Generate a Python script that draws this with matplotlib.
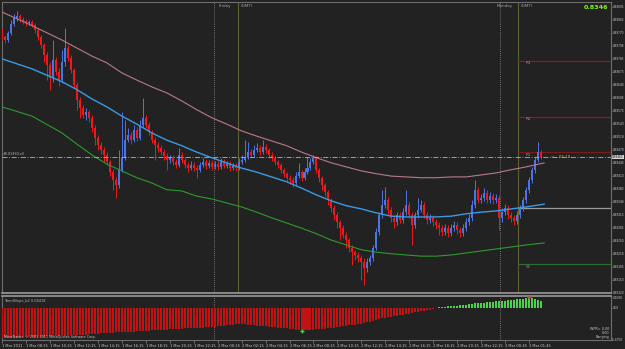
import matplotlib
matplotlib.use('Agg')
import matplotlib.pyplot as plt
import matplotlib.transforms as mtransforms
import numpy as np

BG = '#222222'
POINT = 0.00001
SCALE_FONT = ['Liberation Sans', 'DejaVu Sans']

# M15 candles, prices in points (0.83460 -> 83460)
first_open = 83772
closes = [83760, 83752, 83770, 83792, 83808, 83812, 83805, 83800, 83795, 83798,
          83790, 83778, 83760, 83740, 83715, 83690, 83658, 83702, 83672, 83652,
          83698, 83732, 83708, 83678, 83640, 83602, 83582, 83565, 83572, 83558,
          83532, 83508, 83490, 83478, 83465, 83448, 83422, 83402, 83390, 83428,
          83458, 83502, 83515, 83502, 83528, 83508, 83540, 83558, 83540, 83522,
          83502, 83490, 83482, 83472, 83462, 83452, 83458, 83448, 83440, 83465,
          83452, 83440, 83432, 83440, 83432, 83428, 83440, 83448, 83438, 83445,
          83435, 83442, 83435, 83448, 83438, 83442, 83432, 83438, 83432, 83448,
          83452, 83460, 83472, 83465, 83478, 83482, 83472, 83485, 83478, 83465,
          83458, 83448, 83440, 83428, 83418, 83408, 83402, 83395, 83412, 83422,
          83408, 83422, 83432, 83448, 83458, 83428, 83408, 83390, 83372, 83352,
          83332, 83315, 83298, 83282, 83265, 83252, 83232, 83222, 83215, 83208,
          83198, 83182, 83198, 83208, 83232, 83272, 83315, 83340, 83352, 83328,
          83308, 83298, 83315, 83302, 83322, 83340, 83315, 83290, 83315, 83328,
          83340, 83315, 83302, 83308, 83298, 83290, 83282, 83272, 83282, 83270,
          83282, 83290, 83278, 83270, 83282, 83298, 83308, 83340, 83378, 83352,
          83358, 83370, 83352, 83362, 83352, 83358, 83308, 83322, 83332, 83315,
          83308, 83300, 83315, 83332, 83352, 83378, 83402, 83428, 83452, 83472,
          83460]
highs = [83782, 83765, 83775, 83802, 83818, 83825, 83818, 83810, 83805, 83802,
         83802, 83795, 83782, 83765, 83745, 83722, 83698, 83752, 83710, 83682,
         83728, 83782, 83740, 83715, 83682, 83648, 83610, 83590, 83582, 83578,
         83565, 83540, 83515, 83498, 83485, 83472, 83452, 83430, 83410, 83478,
         83572, 83552, 83532, 83522, 83540, 83535, 83552, 83608, 83565, 83548,
         83528, 83510, 83498, 83490, 83480, 83470, 83465, 83465, 83455, 83482,
         83472, 83460, 83448, 83450, 83448, 83440, 83448, 83458, 83455, 83452,
         83452, 83450, 83450, 83458, 83455, 83450, 83450, 83445, 83445, 83458,
         83465, 83502, 83498, 83480, 83490, 83495, 83490, 83502, 83492, 83482,
         83472, 83462, 83452, 83445, 83432, 83422, 83415, 83410, 83422, 83445,
         83428, 83432, 83460, 83458, 83465, 83462, 83432, 83412, 83395, 83378,
         83358, 83340, 83322, 83302, 83290, 83272, 83258, 83240, 83228, 83222,
         83215, 83208, 83208, 83215, 83240, 83282, 83322, 83378, 83385, 83360,
         83335, 83315, 83322, 83322, 83332, 83378, 83348, 83322, 83322, 83358,
         83352, 83348, 83322, 83318, 83315, 83305, 83298, 83290, 83292, 83290,
         83292, 83300, 83298, 83285, 83292, 83308, 83318, 83352, 83402, 83385,
         83368, 83382, 83378, 83372, 83370, 83368, 83365, 83332, 83342, 83340,
         83322, 83315, 83325, 83340, 83360, 83385, 83410, 83435, 83460, 83498,
         83478]
lows = [83752, 83745, 83748, 83765, 83788, 83800, 83798, 83792, 83788, 83790,
        83785, 83770, 83752, 83732, 83698, 83652, 83628, 83648, 83665, 83638,
        83645, 83688, 83700, 83670, 83632, 83578, 83558, 83558, 83552, 83548,
        83522, 83490, 83478, 83468, 83448, 83440, 83412, 83378, 83358, 83382,
        83422, 83452, 83498, 83492, 83498, 83500, 83502, 83535, 83532, 83515,
        83495, 83452, 83472, 83465, 83452, 83428, 83445, 83440, 83432, 83435,
        83445, 83432, 83422, 83428, 83425, 83408, 83422, 83435, 83430, 83432,
        83428, 83430, 83428, 83430, 83432, 83432, 83425, 83428, 83425, 83428,
        83442, 83448, 83455, 83458, 83460, 83472, 83465, 83468, 83470, 83458,
        83450, 83440, 83432, 83420, 83410, 83400, 83392, 83385, 83390, 83408,
        83400, 83402, 83418, 83428, 83442, 83420, 83398, 83378, 83362, 83340,
        83322, 83302, 83282, 83252, 83258, 83232, 83222, 83190, 83202, 83198,
        83152, 83140, 83172, 83190, 83200, 83228, 83265, 83308, 83332, 83318,
        83298, 83282, 83290, 83295, 83295, 83315, 83308, 83240, 83282, 83308,
        83322, 83308, 83292, 83295, 83288, 83280, 83265, 83262, 83265, 83260,
        83262, 83275, 83268, 83260, 83262, 83275, 83290, 83300, 83332, 83345,
        83345, 83350, 83345, 83345, 83342, 83345, 83278, 83298, 83315, 83305,
        83298, 83290, 83292, 83308, 83325, 83345, 83370, 83395, 83420, 83448,
        83455]

# moving averages, sampled at bar indices
ma_bars = [0, 10, 20, 25, 30, 35, 40, 45, 50, 55, 60, 65, 70, 75, 80, 85, 90,
           95, 100, 105, 110, 115, 120, 125, 130, 135, 140, 145, 150, 155,
           160, 165, 170, 175, 181]
ma_pink = [83822, 83788, 83752, 83732, 83712, 83695, 83670, 83652, 83635, 83620,
           83600, 83578, 83558, 83542, 83525, 83512, 83500, 83488, 83472, 83458,
           83445, 83435, 83425, 83418, 83412, 83410, 83408, 83408, 83410, 83410,
           83415, 83420, 83428, 83435, 83445]
ma_blue = [83705, 83680, 83648, 83628, 83605, 83585, 83562, 83542, 83520, 83502,
           83488, 83472, 83458, 83445, 83432, 83422, 83410, 83398, 83382, 83365,
           83350, 83338, 83330, 83320, 83312, 83310, 83310, 83310, 83312, 83318,
           83322, 83325, 83330, 83335, 83342]
ma_green = [83585, 83562, 83520, 83492, 83465, 83442, 83425, 83408, 83395, 83378,
            83375, 83362, 83355, 83345, 83335, 83322, 83308, 83295, 83282, 83268,
            83252, 83240, 83228, 83222, 83218, 83215, 83212, 83212, 83215, 83220,
            83225, 83230, 83235, 83240, 83245]

# daily pivots
pivot_names = ['R3', 'R2', 'R1', '', 'S1']
pivot_levels = [83700, 83560, 83472, 83332, 83192]
pivot_colors = ['#8a1c1c', '#8a1c1c', '#7a1a1a', '#9a9a9a', '#2f6a2f']

bid = 83460

# TrendSlope histogram
slope = [-0.324, -0.324, -0.323, -0.322, -0.321, -0.320, -0.318,
         -0.316, -0.314, -0.313, -0.312, -0.311,
         -0.310, -0.309, -0.308, -0.307, -0.305, -0.304, -0.303, -0.301,
         -0.300, -0.299, -0.297, -0.296, -0.295, -0.293, -0.292, -0.290,
         -0.288, -0.285, -0.282, -0.279, -0.276, -0.273,
         -0.270, -0.268, -0.267, -0.265, -0.264, -0.262, -0.261, -0.259,
         -0.258, -0.256, -0.255,
         -0.253, -0.251, -0.249, -0.247, -0.245, -0.243, -0.241, -0.239,
         -0.237, -0.235, -0.233, -0.231,
         -0.229, -0.228, -0.226, -0.224, -0.222, -0.221, -0.219, -0.217,
         -0.215, -0.213, -0.212, -0.210, -0.208, -0.206,
         -0.203, -0.200, -0.197, -0.194, -0.190, -0.186, -0.182, -0.178, -0.174,
         -0.176, -0.179, -0.182, -0.185, -0.188, -0.191, -0.194, -0.197,
         -0.200, -0.203,
         -0.206, -0.209, -0.212, -0.215, -0.218, -0.221, -0.225, -0.229,
         -0.233, -0.236,
         -0.238, -0.238, -0.237, -0.235, -0.233, -0.231, -0.229, -0.227,
         -0.225, -0.222, -0.220,
         -0.215, -0.210, -0.205, -0.200, -0.195, -0.190, -0.185, -0.180,
         -0.175, -0.170, -0.165,
         -0.158, -0.150, -0.141, -0.132, -0.123, -0.115,
         -0.110, -0.104, -0.098, -0.091, -0.085, -0.078,
         -0.073, -0.068, -0.062, -0.057, -0.051, -0.046,
         -0.040, -0.034, -0.028, -0.021, -0.014, -0.007,
         0.004, 0.007, 0.010, 0.013, 0.016, 0.019, 0.022,
         0.026, 0.030, 0.034, 0.038, 0.042, 0.046,
         0.049, 0.052, 0.055, 0.058, 0.061, 0.064, 0.067, 0.070,
         0.073, 0.076, 0.079, 0.082, 0.085, 0.088, 0.091,
         0.095, 0.099, 0.102, 0.104,
         0.096, 0.084, 0.070]
buy_signal = (100, -0.250)
sell_signal = (176, 0.114)

price_ticks = [0.83835, 0.83803, 0.83770, 0.83738, 0.83705, 0.83673, 0.83640,
               0.83608, 0.83575, 0.83543, 0.83510, 0.83478, 0.83445, 0.83413,
               0.83380, 0.83348, 0.83315, 0.83283, 0.83250, 0.83218, 0.83185,
               0.83153, 0.83120]
time_labels = ['1 Mar 2011', '1 Mar 08:15', '1 Mar 10:15', '1 Mar 12:15',
               '1 Mar 14:15', '1 Mar 16:15', '1 Mar 18:15', '1 Mar 20:15',
               '1 Mar 22:15', '2 Mar 00:15', '2 Mar 02:15', '2 Mar 04:15',
               '2 Mar 06:15', '2 Mar 08:15', '2 Mar 10:15', '2 Mar 12:15',
               '2 Mar 14:15', '2 Mar 16:15', '2 Mar 18:15', '2 Mar 20:15',
               '2 Mar 22:15', '3 Mar 00:45', '3 Mar 01:45']
day_separators = [70.7, 166.3]
session_starts = [78.7, 172.3]

closes_p = np.array(closes) * POINT
opens_p = np.array([first_open] + closes[:-1]) * POINT
highs_p = np.array(highs) * POINT
lows_p = np.array(lows) * POINT
bars = np.arange(len(closes))

fig = plt.figure(figsize=(6.25, 3.49), dpi=100, facecolor=BG)
ax = fig.add_axes([2 / 625, 1 - 293 / 349, 609 / 625, 291 / 349], facecolor=BG)
sub = fig.add_axes([2 / 625, 1 - 340 / 349, 609 / 625, 44 / 349], facecolor=BG, sharex=ax)

up = closes_p >= opens_p
col = np.where(up, '#4d73e6', '#f01818')
ax.vlines(bars, lows_p, highs_p, colors=col, linewidth=0.7, zorder=3)
body_h = np.maximum(np.abs(closes_p - opens_p), 0.000006)
ax.bar(bars, body_h, bottom=np.minimum(opens_p, closes_p), width=0.67,
       color=col, linewidth=0, zorder=4)

ax.plot(ma_bars, np.array(ma_pink) * POINT, color='#b87a8c', lw=0.8, zorder=5)
ax.plot(ma_bars, np.array(ma_blue) * POINT, color='#3a9ae6', lw=1.0, zorder=5)
ax.plot(ma_bars, np.array(ma_green) * POINT, color='#2e9a2e', lw=0.8, zorder=5)

for name, lvl, c in zip(pivot_names, pivot_levels, pivot_colors):
    ax.hlines(lvl * POINT, session_starts[1], 204, colors=c, lw=0.9, zorder=2)
    if name:
        ax.text(session_starts[1] + 2.5, lvl * POINT - 0.00001, name, color='#8c8c8c',
                fontsize=3, va='top', ha='left')

ax.axhline(bid * POINT, color='#b4b4b4', lw=0.6, ls=(0, (6, 2, 1, 2)), zorder=6)
ax.text(0.3, bid * POINT + 0.000012, '#0.83460,ell', color='#b0b0b0', fontsize=2.4,
        va='bottom', ha='left')
ax.text(183.3, bid * POINT - 0.00001, '<-- 05.19', color='#c8b050', fontsize=3,
        va='center', ha='left')

for xs in day_separators:
    ax.axvline(xs, color='#8c8c8c', lw=0.6, ls=(0, (1, 1.5)), zorder=1)
    sub.axvline(xs, color='#8c8c8c', lw=0.6, ls=(0, (1, 1.5)), zorder=1)
for xs in session_starts:
    ax.axvline(xs, color='#5e6128', lw=0.8, zorder=1)

tr = mtransforms.blended_transform_factory(ax.transData, ax.transAxes)
ax.text(72.3, 0.985, 'Friday', color='#a0a0a0', fontsize=3, transform=tr, va='center')
ax.text(79.7, 0.985, '(GMT)', color='#a0a0a0', fontsize=3, transform=tr, va='center')
ax.text(165.0, 0.985, 'Monday', color='#a0a0a0', fontsize=3, transform=tr, va='center')
ax.text(173.3, 0.985, '(GMT)', color='#a0a0a0', fontsize=3, transform=tr, va='center')
ax.text(0.995, 0.98, '0.8346', color='#7cfc00', fontsize=4.6, fontweight='bold',
        transform=ax.transAxes, ha='right', va='center')

ax.set_xlim(1 / 3, 1 / 3 + 203)
ax.set_ylim(0.83120, 0.83847)
ax.yaxis.tick_right()
ax.set_yticks(price_ticks, [f'{t:.5f}' for t in price_ticks])
ax.tick_params(axis='y', colors='#8c8c8c', labelcolor='#c8c8c8', labelsize=2.3,
               length=1, width=0.5, pad=0.3)
for lab in ax.get_yticklabels():
    lab.set_fontfamily(SCALE_FONT)
ax.tick_params(axis='x', bottom=False, labelbottom=False)
tr_r = mtransforms.blended_transform_factory(ax.transAxes, ax.transData)
ax.text(1.0015, bid * POINT, '0.83460', color='#111111', fontsize=2.3, family=SCALE_FONT,
        transform=tr_r, va='center', ha='left',
        bbox=dict(boxstyle='square,pad=0.1', fc='#d8d8d8', ec='none'))

sl = np.array(slope)
sub.bar(bars, sl, width=0.67, color=np.where(sl >= 0, '#4cd24c', '#c01414'),
        linewidth=0, zorder=3)
sub.plot(*buy_signal, marker='+', color='#33dd33', ms=3, mew=1.0, zorder=4)
sub.plot(*sell_signal, marker='+', color='#ee3030', ms=3, mew=1.0, zorder=4)
sub.set_ylim(-0.345, 0.125)
sub.yaxis.tick_right()
sub.set_yticks([0.109, 0.0], ['0.1090', '0.00'])
sub.tick_params(axis='y', colors='#8c8c8c', labelcolor='#c8c8c8', labelsize=2.3,
                length=1, width=0.5, pad=0.3)
for lab in sub.get_yticklabels():
    lab.set_fontfamily(SCALE_FONT)
sub.text(1.0015, 0.0, '-0.4750', color='#c8c8c8', fontsize=2.3, family=SCALE_FONT,
         transform=sub.transAxes, va='center', ha='left')
sub.set_xticks(bars[::8][:len(time_labels)], time_labels)
sub.tick_params(axis='x', colors='#8c8c8c', labelcolor='#c8c8c8', labelsize=2.6,
                length=2, width=0.5, pad=0.6)
for lab in sub.get_xticklabels():
    lab.set_horizontalalignment('left')
sub.text(0.003, 0.93, 'TrendSlope_b2 0.08418', color='#b8b8b8', fontsize=2.5,
         transform=sub.transAxes, va='top')
sub.text(0.003, 0.02, 'MetaTrader, \u00a9 2001-2011 MetaQuotes Software Corp.',
         color='#c8c8c8', fontsize=2.4, transform=sub.transAxes, va='bottom')
sub.text(0.997, 0.20, 'WPR= 0.00', color='#c8c8c8', fontsize=2.4,
         transform=sub.transAxes, ha='right', va='bottom')
sub.text(0.997, 0.12, '0.00', color='#c8c8c8', fontsize=2.4,
         transform=sub.transAxes, ha='right', va='bottom')
sub.text(0.997, 0.02, 'Ranging', color='#c8c8c8', fontsize=2.4,
         transform=sub.transAxes, ha='right', va='bottom')

for a in (ax, sub):
    for s in a.spines.values():
        s.set_color('#6e6e6e')
        s.set_linewidth(0.8)
ax.spines['bottom'].set_color('#9a9a9a')
ax.spines['bottom'].set_linewidth(1.2)
sub.spines['top'].set_color('#9a9a9a')
sub.spines['top'].set_linewidth(1.2)

fig.savefig('out.png', dpi=100, facecolor=BG)
